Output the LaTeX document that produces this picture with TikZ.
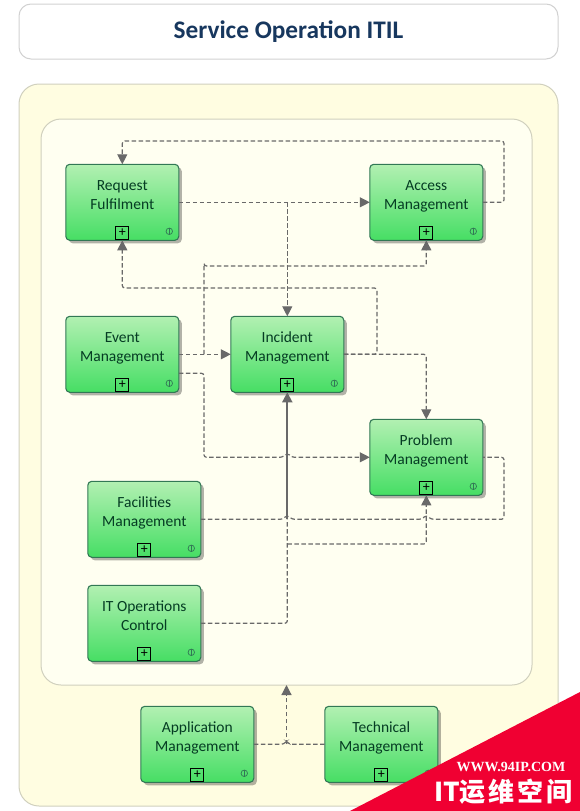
\documentclass[tikz,border=0pt]{standalone}
\usepackage{fontspec}
\setmainfont{Carlito}
\newfontfamily\cjk{Noto Sans CJK SC}
\newfontfamily\webfont{Liberation Serif}
\usetikzlibrary{arrows.meta, positioning, shadows, calc}
\definecolor{outerfill}{RGB}{255,253,225}
\definecolor{innerfill}{RGB}{255,255,241}
\definecolor{panelline}{RGB}{208,208,190}
\definecolor{linegray}{RGB}{105,105,105}
\definecolor{boxline}{RGB}{50,120,85}
\definecolor{boxtext}{RGB}{5,60,35}
\definecolor{titletext}{RGB}{23,55,94}
\definecolor{bannerred}{RGB}{240,0,50}
\definecolor{boxtop}{RGB}{178,240,178}
\definecolor{boxbottom}{RGB}{70,222,100}

\begin{document}
\begin{tikzpicture}[
  x=1pt, y=-1pt,
  box/.style={rectangle, draw=boxline, line width=1.1pt, rounded corners=4pt, minimum width=113pt,
    minimum height=76pt, align=center, inner sep=0pt, outer sep=0pt, text=boxtext,
    top color=boxtop, bottom color=boxbottom,
    font=\fontsize{15.5}{19}\selectfont,
    drop shadow={shadow xshift=3pt, shadow yshift=-3pt, fill=black, opacity=.3},
    execute at end node={\\\rule[-15pt]{0pt}{15pt}}},
  panel/.style={rectangle, draw=panelline, line width=1pt, inner sep=0pt, outer sep=0pt},
  plusmark/.style={rectangle, draw=black, line width=1pt, minimum size=13pt, inner sep=0pt,
    font=\fontsize{14}{14}\selectfont, text=black},
  infomark/.style={circle, draw=boxline, line width=.7pt, minimum size=6.5pt, inner sep=0pt,
    path picture={\draw[boxline, line width=.7pt] (path picture bounding box.north)
      -- (path picture bounding box.south);}},
  dashline/.style={draw=linegray, line width=1.2pt, dash pattern=on 4.5pt off 2.5pt, rounded corners=2.5pt},
  dasharr/.style={dashline, -{Triangle[length=10pt, width=10pt, fill=linegray]}},
  solidarr/.style={draw=linegray, line width=1.8pt, -{Triangle[length=10pt, width=10pt, fill=linegray]}}
]
\useasboundingbox (0,0) rectangle (580,811);
\node[panel, draw=black!18, rounded corners=12pt, minimum width=539pt, minimum height=55pt,
  font=\fontsize{25.3}{28}\selectfont\bfseries, text=titletext] (title) at (288.5,31.5) {\raisebox{-1pt}{Service Operation ITIL}};
\node[panel, fill=outerfill, rounded corners=20pt, minimum width=539pt, minimum height=722pt] (outer) at (288.5,445) {};
\node[panel, fill=innerfill, rounded corners=20pt, minimum width=491pt, minimum height=566pt] (inner) at (286.5,402) {};

\node[box] (reqf) at (122.3,202.3) {Request\\Fulfilment};
\node[box, right=191pt of reqf] (access) {Access\\Management};
\node[box, below=76pt of reqf] (event) {Event\\Management};
\node[box, right=52pt of event] (incident) {Incident\\Management};
\node[box, below=179pt of access] (problem) {Problem\\Management};
\node[box, below=89pt of event, xshift=22pt] (facilities) {Facilities\\Management};
\node[box, below=28pt of facilities] (itops) {IT Operations\\Control};
\node[box, below=45pt of itops, xshift=53pt] (appm) {Application\\Management};
\node[box, right=71pt of appm] (techm) {Technical\\Management};

\foreach \n in {reqf,access,event,incident,problem,facilities,itops,appm,techm} {
  \node[plusmark] (\n plus) at ([yshift=7.5pt]\n.south) {+};
  \node[infomark] (\n info) at ([xshift=-9.5pt,yshift=9pt]\n.south east) {};
}

\coordinate (loopne) at (504,141);
\coordinate (upperne) at (377,288);
\coordinate (uppersw) at (204,266);
\coordinate (lowersw) at (204,457);
\coordinate (lowerhop) at (incident.south |- problem.west);
\coordinate (fachop) at (facilities.east -| incident.south);
\coordinate (probhop) at (facilities.east -| problem.south);
\coordinate (problemse) at (facilities.east -| loopne);
\coordinate (itopsturn) at (incident.south |- 0,544);

\draw[dasharr] (reqf.east) -- (access.west);
\draw[dasharr] (incident.north |- reqf.east) -- (incident.north);
\draw[dasharr] (access.east) -| (loopne) -| (reqf.north);
\draw[dasharr] (incident.east) -| (upperne) -| (reqf.south);
\draw[dasharr] (incident.east) -| (problem.north);
\draw[dasharr] (event.east) -- (incident.west);
\draw[dasharr] (uppersw |- event.east) |- (uppersw) -| (access.south);
\draw[dasharr] ([yshift=-19pt]event.east) -| (lowersw |- problem.west) -- ([xshift=-5pt]lowerhop) -- ++(5,-4) -- ++(5,4) -- (problem.west);
\draw[dashline] (facilities.east) -- ([xshift=-5pt]fachop) -- ++(5,-4) -- ++(5,4)
  -- ([xshift=-5pt]probhop) -- ++(5,-4) -- ++(5,4) -- (problemse) |- (problem.east);
\draw[dashline] (itops.east) -| (fachop);
\draw[dasharr] (itopsturn) -| (problem.south);
\draw[solidarr] (fachop) -- (incident.south);
\draw[dashline] (appm.east) -- ([xshift=-3pt]appm.east -| inner.south) -- ++(3,-3) -- ++(3,3) -- (techm.west);
\draw[dasharr] (appm.east -| inner.south) -- (inner.south);

\fill[bannerred] (350,811) -- (580,692) -- (580,811) -- cycle;
\node[text=white, font=\webfont\bfseries\fontsize{14}{15}\selectfont, inner sep=0pt] (bannerweb) at (511,767) {WWW.94IP.COM};
\node[text=white, font=\cjk\bfseries\fontsize{26}{28}\selectfont, inner sep=0pt] (bannertext) at (503.5,792) {IT运\hspace{3pt}维\hspace{3pt}空\hspace{3pt}间};
\end{tikzpicture}
\end{document}
